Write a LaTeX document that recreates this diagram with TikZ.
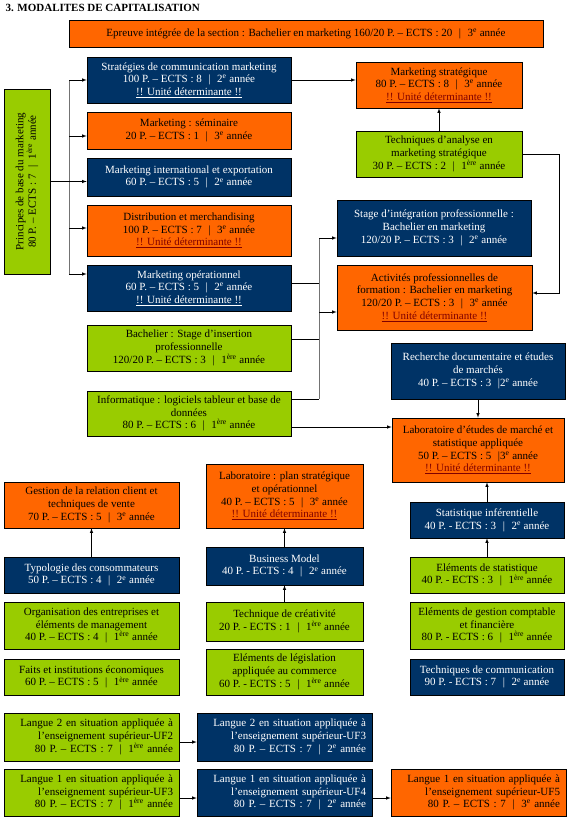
\documentclass[tikz,border=0pt]{standalone}
\usepackage{fontspec}
\setmainfont{Liberation Serif}
\usetikzlibrary{arrows}
\definecolor{navyblue}{RGB}{0, 51, 102}
\definecolor{tangerine}{RGB}{255, 102, 0}
\definecolor{limegreen}{RGB}{153, 204, 0}
\definecolor{darkred}{RGB}{128, 0, 0}
\newcommand{\ysep}{\hspace{0.6em}|\hspace{0.6em}}
\newcommand{\annee}[2]{#1\textsuperscript{#2} année}
\newcommand{\unite}{\underline{!! Unité déterminante !!}}
\newcommand{\uniter}{\textcolor{darkred}{\unite}}
\tikzset{
  box/.style={draw=black, line width=0.6pt, inner sep=1pt, align=center, font=\fontsize{11}{12.7}\selectfont},
  navybox/.style={box, fill=navyblue, text=white},
  orangebox/.style={box, fill=tangerine},
  greenbox/.style={box, fill=limegreen},
  arr/.style={-latex, line width=0.6pt},
  rail/.style={line width=0.6pt, draw=black!55}
}

\begin{document}
\begin{tikzpicture}[x=1pt, y=-1pt]
  \useasboundingbox (0,0) rectangle (573,820);
  \node[anchor=west, font=\fontsize{11}{13}\selectfont\bfseries] (title) at (2,8) {3. MODALITES DE CAPITALISATION};
  \node[orangebox, minimum width=474, minimum height=27] (epreuve)  at (306.0, 33.5) {Epreuve intégrée de la section : Bachelier en marketing 160/20 P. – ECTS : 20\ysep\annee{3}{e}};
  % premier bloc
  \node[greenbox, rotate=90, minimum width=185, minimum height=46] (principes) at ( 27.0,181.5) {Principes de base du marketing\\80 P. – ECTS : 7\ysep\annee{1}{ère}};
  \node[navybox,   minimum width=204, minimum height=46] (stratcomm)     at (189.0, 80.0) {Stratégies de communication marketing\\100 P. – ECTS : 8\ysep\annee{2}{e}\\\unite};
  \node[orangebox, minimum width=204, minimum height=37] (seminaire)     at (189.0,130.5) {Marketing : séminaire\\20 P. – ECTS : 1\ysep\annee{3}{e}};
  \node[navybox,   minimum width=204, minimum height=38] (international) at (189.0,177.0) {Marketing international et exportation\\60 P. – ECTS : 5\ysep\annee{2}{e}};
  \node[orangebox, minimum width=204, minimum height=51] (distribution)  at (189.0,230.5) {Distribution et merchandising\\100 P. – ECTS : 7\ysep\annee{3}{e}\\\uniter};
  \node[navybox,   minimum width=204, minimum height=46] (operationnel)  at (189.0,288.0) {Marketing opérationnel\\60 P. – ECTS : 5\ysep\annee{2}{e}\\\unite};
  \node[greenbox,  minimum width=204, minimum height=46] (insertion)     at (189.0,348.0) {Bachelier : Stage d’insertion\\professionnelle\\120/20 P. – ECTS : 3\ysep\annee{1}{ère}};
  \node[greenbox,  minimum width=204, minimum height=45] (informatique)  at (189.0,413.5) {Informatique : logiciels tableur et base de\\données\\80 P. – ECTS : 6\ysep\annee{1}{ère}};
  \node[orangebox, minimum width=166, minimum height=46] (mktstrat)      at (439.0, 85.0) {Marketing stratégique\\80 P. – ECTS : 8\ysep\annee{3}{e}\\\uniter};
  \node[greenbox,  minimum width=166, minimum height=46] (techanalyse)   at (439.0,154.0) {Techniques d’analyse en\\marketing stratégique\\30 P. – ECTS : 2\ysep\annee{1}{ère}};
  \node[navybox,   minimum width=194, minimum height=56] (stageinteg)    at (434.0,228.0) {Stage d’intégration professionnelle :\\Bachelier en marketing\\120/20 P. – ECTS : 3\ysep\annee{2}{e}};
  \node[orangebox, minimum width=195, minimum height=65] (activites)     at (434.5,297.5) {Activités professionnelles de\\formation : Bachelier en marketing\\120/20 P. – ECTS : 3\ysep\annee{3}{e}\\\uniter};
  % colonne de droite
  \node[navybox,   minimum width=174, minimum height=56] (recherche)     at (478.0,371.0) {Recherche documentaire et études\\de marchés\\40 P. – ECTS : 3\hspace{0.6em}|\annee{2}{e}};
  \node[orangebox, minimum width=172, minimum height=64] (labetudes)     at (478.0,450.0) {Laboratoire d’études de marché et\\statistique appliquée\\50 P. – ECTS : 5\hspace{0.6em}|\annee{3}{e}\\\uniter};
  \node[navybox,   minimum width=154, minimum height=36] (statinf)       at (487.0,520.0) {Statistique inférentielle\\40 P. - ECTS : 3\ysep\annee{2}{e}};
  \node[greenbox,  minimum width=154, minimum height=36] (elemstat)      at (487.0,575.0) {Eléments de statistique\\40 P. - ECTS : 3\ysep\annee{1}{ère}};
  \node[greenbox,  minimum width=154, minimum height=47] (gestcompta)    at (487.0,625.5) {Eléments de gestion comptable\\et financière\\80 P. - ECTS : 6\ysep\annee{1}{ère}};
  \node[navybox,   minimum width=154, minimum height=36] (techcomm)      at (487.0,677.0) {Techniques de communication\\90 P. - ECTS : 7\ysep\annee{2}{e}};
  % colonnes du bas
  \node[orangebox, minimum width=175, minimum height=46] (relclient)     at ( 91.5,505.0) {Gestion de la relation client et\\techniques de vente\\70 P. – ECTS : 5\ysep\annee{3}{e}};
  \node[navybox,   minimum width=175, minimum height=36] (typologie)     at ( 91.5,575.0) {Typologie des consommateurs\\50 P. – ECTS : 4\ysep\annee{2}{e}};
  \node[greenbox,  minimum width=175, minimum height=47] (organisation)  at ( 91.5,625.5) {Organisation des entreprises et\\éléments de management\\40 P. – ECTS : 4\ysep\annee{1}{ère}};
  \node[greenbox,  minimum width=175, minimum height=36] (faits)         at ( 91.5,677.0) {Faits et institutions économiques\\60 P. – ECTS : 5\ysep\annee{1}{ère}};
  \node[orangebox, minimum width=157, minimum height=64] (labplan)       at (284.5,496.0) {Laboratoire : plan stratégique\\et opérationnel\\40 P. – ECTS : 5\ysep\annee{3}{e}\\\uniter};
  \node[navybox,   minimum width=157, minimum height=38] (business)      at (284.5,566.0) {Business Model\\40 P. - ECTS : 4\ysep\annee{2}{e}};
  \node[greenbox,  minimum width=157, minimum height=39] (creativite)    at (284.5,621.5) {Technique de créativité\\20 P. - ECTS : 1\ysep\annee{1}{ère}};
  \node[greenbox,  minimum width=157, minimum height=46] (legislation)   at (284.5,672.0) {Eléments de législation\\appliquée au commerce\\60 P. - ECTS : 5\ysep\annee{1}{ère}};
  % langues
  \node[greenbox,  align=right, text width=163, minimum width=175, minimum height=48] (langueA) at ( 91.5,737.0) {Langue 2 en situation appliquée à\\l’enseignement supérieur-UF2\\80 P. – ECTS : 7\ysep\annee{1}{ère}};
  \node[navybox,   align=right, text width=163, minimum width=175, minimum height=48] (langueB) at (284.5,737.0) {Langue 2 en situation appliquée à\\l’enseignement supérieur-UF3\\80 P. – ECTS : 7\ysep\annee{2}{e}};
  \node[greenbox,  align=right, text width=163, minimum width=175, minimum height=47] (langueC) at ( 91.5,792.5) {Langue 1 en situation appliquée à\\l’enseignement supérieur-UF3\\80 P. – ECTS : 7\ysep\annee{1}{ère}};
  \node[navybox,   align=right, text width=163, minimum width=175, minimum height=47] (langueD) at (284.5,792.5) {Langue 1 en situation appliquée à\\l’enseignement supérieur-UF4\\80 P. – ECTS : 7\ysep\annee{2}{e}};
  \node[orangebox, align=right, text width=163, minimum width=175, minimum height=47] (langueE) at (478.5,792.5) {Langue 1 en situation appliquée à\\l’enseignement supérieur-UF5\\80 P. – ECTS : 7\ysep\annee{3}{e}};
  % points d'accroche
  \coordinate (lefttrunk)  at ( 69,0);
  \coordinate (midtrunk)   at (319,0);
  \coordinate (rightrail)  at (559,0);
  \coordinate (seminin)    at ([yshift=-5.5pt]seminaire.west);
  \coordinate (distribin)  at ([yshift=2.5pt]distribution.west);
  \coordinate (opin)       at ([yshift=14pt]operationnel.west);
  \coordinate (opout)      at ([yshift=5pt]operationnel.east);
  \coordinate (insertout)  at ([yshift=9pt]insertion.east);
  \coordinate (infoout)    at ([yshift=14.5pt]informatique.east);
  \coordinate (infolab)    at ([yshift=-13.5pt]informatique.east);
  \coordinate (stagein)    at ([yshift=-10pt]stageinteg.west);
  \coordinate (activin)    at ([yshift=-14.5pt]activites.west);
  \coordinate (activrail)  at ([yshift=4.5pt]activites.east);
  \coordinate (langueAB)   at ([yshift=-5pt]langueA.east);
  \coordinate (langueCD)   at ([yshift=-5.5pt]langueC.east);
  \coordinate (langueDE)   at ([yshift=-5.5pt]langueD.east);
  % connecteurs
  \draw[rail] (lefttrunk |- stratcomm.west) -- (lefttrunk |- opin);
  \draw[arr] (lefttrunk |- stratcomm.west) -- (stratcomm.west);
  \draw[arr] (lefttrunk |- seminin) -- (seminin);
  \draw[arr] (principes.south) -- (principes.south -| international.west);
  \draw[arr] (lefttrunk |- distribin) -- (distribin);
  \draw[arr] (lefttrunk |- opin) -- (opin);
  \draw[arr] (stratcomm.east) -- (stratcomm.east -| mktstrat.west);
  \draw[arr] (techanalyse.north) -- (mktstrat.south);
  \draw[arr] (techanalyse.east) -- (techanalyse.east -| rightrail) -- (rightrail |- activrail) -- (activrail);
  \draw[rail] (midtrunk |- stagein) -- (midtrunk |- infoout);
  \draw (opout) -- (opout -| midtrunk);
  \draw (insertout) -- (insertout -| midtrunk);
  \draw (infoout) -- (infoout -| midtrunk);
  \draw[arr] (midtrunk |- stagein) -- (stagein);
  \draw[arr] (midtrunk |- activin) -- (activin);
  \draw[arr] (infolab) -- (infolab -| labetudes.west);
  \draw[arr] (recherche.south) -- (labetudes.north);
  \draw[arr] (statinf.north) -- (statinf.north |- labetudes.south);
  \draw[arr] (elemstat.north) -- (statinf.south);
  \draw[arr] (typologie.north) -- (relclient.south);
  \draw[arr] (business.north) -- (labplan.south);
  \draw[arr] (creativite.north) -- (business.south);
  \draw[arr] (langueAB) -- (langueAB -| langueB.west);
  \draw[arr] (langueCD) -- (langueCD -| langueD.west);
  \draw[arr] (langueDE) -- (langueDE -| langueE.west);
\end{tikzpicture}
\end{document}
